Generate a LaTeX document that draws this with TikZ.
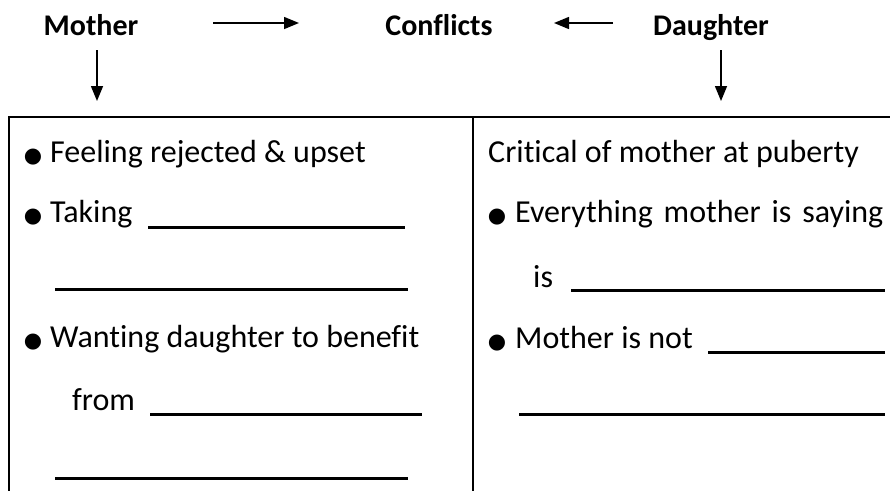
\documentclass[tikz,border=0pt]{standalone}
\usepackage{fontspec}
\setmainfont[Ligatures={NoCommon}]{Carlito}
\newfontfamily\symfont{DejaVu Sans}
\usetikzlibrary{arrows.meta}
\tikzset{
  head/.style={font=\fontsize{30}{34}\selectfont\bfseries, inner sep=0pt, anchor=base},
  body/.style={font=\fontsize{32}{36}\selectfont, inner sep=0pt, anchor=base west},
  bul/.style={font=\symfont\fontsize{21}{24}\selectfont, inner sep=0pt, anchor=base},
  conn/.style={line width=1.5pt, -{Triangle[length=15pt,width=12pt]}},
  frame/.style={line width=2pt},
  blank/.style={line width=3pt}
}
\begin{document}
\begin{tikzpicture}[x=1pt,y=-1pt]
\useasboundingbox (0,0) rectangle (890,491);
% headings
\node[head] (mother) at (91,35) {Mother};
\node[head] (conf) at (439,35) {Conflicts};
\node[head] (daughter) at (711,35) {Daughter};
% arrow coordinates
\coordinate (m1) at (213,23);
\coordinate (m2) at (299,23);
\coordinate (d1) at (613,23);
\coordinate (d2) at (554,23);
\coordinate (md1) at (97,50);
\coordinate (md2) at (97,101);
\coordinate (dd1) at (721,50);
\coordinate (dd2) at (721,101);
\draw[conn] (m1) -- (m2);
\draw[conn] (d1) -- (d2);
\draw[conn] (md1) -- (md2);
\draw[conn] (dd1) -- (dd2);
% frame
\coordinate (tl) at (8,117);
\coordinate (tr) at (890,117);
\coordinate (bl) at (9,491);
\coordinate (dt) at (472.5,117);
\coordinate (db) at (472.5,491);
\draw[frame] (tl) -- (tr);
\draw[frame] ([yshift=-1pt]tl -| bl) -- (bl);
\draw[frame] (dt) -- (db);
% left column
\node[bul] (b1) at (33,162) {\char"25CF};
\node[body] (t1) at (50,162) {Feeling rejected \& upset};
\node[bul] (b2) at (33,222) {\char"25CF};
\node[body] (t2) at (50,222) {Taking};
\coordinate (l1a) at (148,227); \coordinate (l1b) at (405,227);
\draw[blank] (l1a) -- (l1b);
\coordinate (l2a) at (55,289); \coordinate (l2b) at (408,289);
\draw[blank] (l2a) -- (l2b);
\node[bul] (b3) at (33,347) {\char"25CF};
\node[body] (t3) at (50,347) {Wanting daughter to benefit};
\node[body] (t4) at (72,410) {from};
\coordinate (l3a) at (150,414); \coordinate (l3b) at (422,414);
\draw[blank] (l3a) -- (l3b);
\coordinate (l4a) at (55,478); \coordinate (l4b) at (408,478);
\draw[blank] (l4a) -- (l4b);
% right column
\node[body] (r1) at (488,162) {Critical of mother at puberty};
\node[bul] (rb2) at (497,222) {\char"25CF};
\node[body] (r2) at (515,222) {\makebox[368pt][s]{Everything mother is saying}};
\node[body] (r3) at (533,287) {is};
\coordinate (r1a) at (571,290); \coordinate (r1b) at (885,290);
\draw[blank] (r1a) -- (r1b);
\node[bul] (rb4) at (497,348) {\char"25CF};
\node[body] (r4) at (515,348) {Mother is not};
\coordinate (r2a) at (708,352); \coordinate (r2b) at (885,352);
\draw[blank] (r2a) -- (r2b);
\coordinate (r3a) at (519,414); \coordinate (r3b) at (885,414);
\draw[blank] (r3a) -- (r3b);
\end{tikzpicture}
\end{document}
